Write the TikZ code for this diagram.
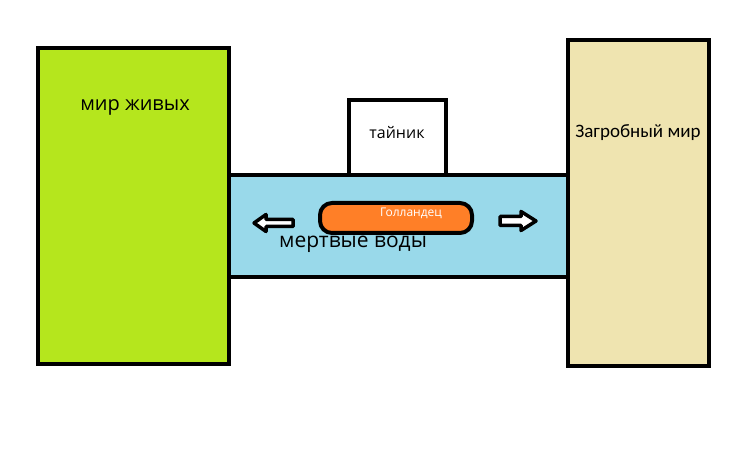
\documentclass[tikz,border=0pt]{standalone}
\usepackage{fontspec}
\setmainfont{Open Sans}
\newfontfamily\calibri{Carlito}
\usepackage{xcolor}

\definecolor{livegreen}{HTML}{B5E61D}
\definecolor{deadsand}{HTML}{EFE4B0}
\definecolor{waterblue}{HTML}{99D9EA}
\definecolor{shiporange}{HTML}{FF7F27}

\begin{document}
\begin{tikzpicture}[
  x=1pt, y=-1pt,
  area/.style={draw, line width=4pt, inner sep=0pt, minimum width=#1},
  txt/.style={inner sep=0pt, font=\fontsize{#1}{#1}\selectfont},
  pointer/.style={draw, fill=white, line width=3.5pt, line join=round}
]
\useasboundingbox (0,0) rectangle (731,457);
\node[area=343pt, minimum height=102pt, fill=waterblue] (water) at (398.5,226) {};
\node[area=191pt, minimum height=316pt, fill=livegreen] (live) at (133.5,206) {};
\node[area=141pt, minimum height=326pt, fill=deadsand] (dead) at (638.5,203) {};
\node[area=97pt, minimum height=75pt, fill=white] (cache) at (397.5,137.5) {};
\node[area=152pt, minimum height=30pt, fill=shiporange, rounded corners=12pt] (ship) at (396,218) {};
\node[txt=20] (livetext) at (135,107) {мир живых};
\node[txt=16] (cachetext) at (397,133) {тайник};
\node[font=\calibri\fontsize{19}{19}\selectfont, inner sep=0pt] (deadtext) at (638,133) {Загробный мир};
\node[txt=21] (watertext) at (353,244) {мертвые воды};
\node[txt=12, text=white] (shiptext) at (411,213) {Голландец};
% arrows to both sides
\draw[pointer] (254,223) -- (266,214.5) -- (266,219.5) -- (293,219.5) -- (293,226.5)
  -- (266,226.5) -- (266,231.5) -- cycle;
\draw[pointer] (536,221) -- (521,211.5) -- (521,216.5) -- (500,216.5) -- (500,225.5)
  -- (521,225.5) -- (521,230.5) -- cycle;
\end{tikzpicture}
\end{document}
